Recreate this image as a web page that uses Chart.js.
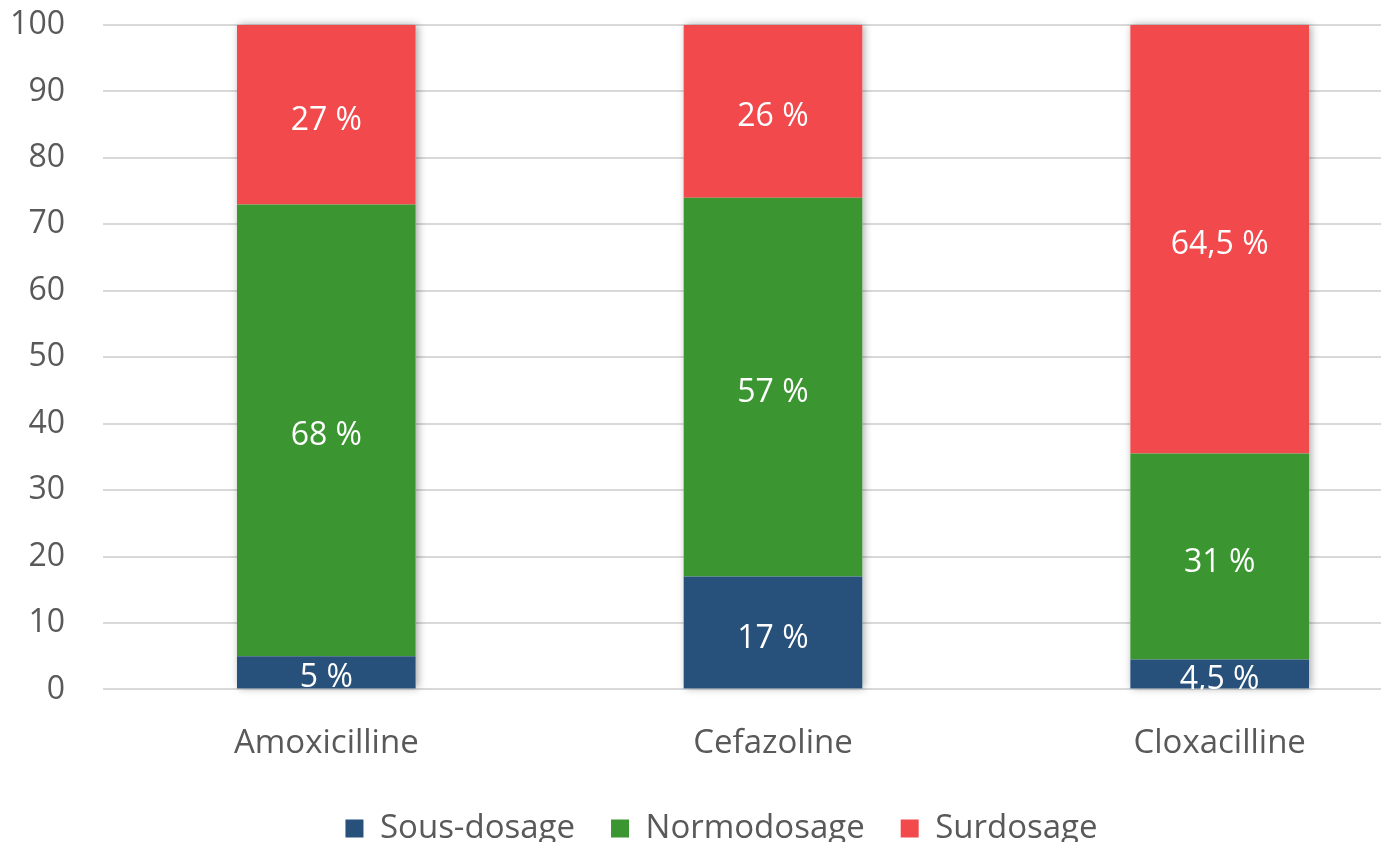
<!DOCTYPE html>
<html>
<head>
<meta charset="utf-8">
<script src="https://cdn.jsdelivr.net/npm/chart.js@4"></script>
<style>
  html, body { margin: 0; padding: 0; background: #fff; overflow: hidden; }
  #wrap { position: absolute; left: 0; top: 0; width: 1480px; height: 842px; }
</style>
</head>
<body>
<div id="wrap"><canvas id="dosageChart" width="1480" height="842"></canvas></div>
<script>
// antibiotics and dosage shares (%)
const antibiotics = ["Amoxicilline", "Cefazoline", "Cloxacilline"];
const sousDosage = [5, 17, 4.5];
const normoDosage = [68, 57, 31];
const surDosage = [27, 26, 64.5];
const yTicks = [0, 10, 20, 30, 40, 50, 60, 70, 80, 90, 100];

const textGrey = "#595959";
Chart.defaults.font.family = "'Open Sans', sans-serif";

// soft shadow behind each full stack
const stackShadow = {
  id: "stackShadow",
  beforeDatasetsDraw(chart) {
    const ctx = chart.ctx;
    const bottom = chart.getDatasetMeta(0).data;
    const top = chart.getDatasetMeta(chart.data.datasets.length - 1).data;
    ctx.save();
    ctx.shadowColor = "rgba(0,0,0,0.35)";
    ctx.shadowBlur = 8;
    ctx.shadowOffsetX = 2;
    ctx.fillStyle = "#fff";
    bottom.forEach((bar, i) => {
      const w = bar.width;
      ctx.fillRect(bar.x - w / 2, top[i].y, w, bar.base - top[i].y);
    });
    ctx.restore();
  }
};

// white value labels centred in each segment
const segmentLabels = {
  id: "segmentLabels",
  afterDatasetsDraw(chart) {
    const ctx = chart.ctx;
    const area = chart.chartArea;
    ctx.save();
    ctx.beginPath();
    ctx.rect(area.left, area.top, area.right - area.left, area.bottom - area.top);
    ctx.clip();
    ctx.fillStyle = "#ffffff";
    ctx.font = "32px 'Open Sans', sans-serif";
    ctx.textAlign = "center";
    ctx.textBaseline = "middle";
    chart.data.datasets.forEach((ds, d) => {
      chart.getDatasetMeta(d).data.forEach((bar, i) => {
        const label = String(ds.data[i]).replace(".", ",") + " %";
        ctx.fillText(label, bar.x, (bar.y + bar.base) / 2 + 6);
      });
    });
    ctx.restore();
  }
};

new Chart(document.getElementById("dosageChart"), {
  type: "bar",
  data: {
    labels: antibiotics,
    datasets: [
      { label: "Sous-dosage", data: sousDosage, backgroundColor: "#27507a" },
      { label: "Normodosage", data: normoDosage, backgroundColor: "#3b9631" },
      { label: "Surdosage", data: surDosage, backgroundColor: "#f2494c" }
    ]
  },
  options: {
    responsive: false,
    animation: false,
    layout: { padding: { top: 25, right: 37, bottom: -13, left: 0 } },
    datasets: { bar: { categoryPercentage: 1, barPercentage: 0.4 } },
    scales: {
      x: {
        stacked: true,
        grid: { display: false },
        border: { display: false },
        afterFit(scale) { scale.height -= 13; },
        ticks: { color: textGrey, font: { size: 33 }, padding: 26 }
      },
      y: {
        stacked: true,
        min: 0,
        max: 100,
        afterBuildTicks(scale) {
          scale.ticks = yTicks.map(v => ({ value: v }));
        },
        afterFit(scale) {
          scale.width = 103;
          scale.paddingTop = 0;
          scale.paddingBottom = 0;
        },
        grid: { color: "#d9d9d9", lineWidth: 2, drawTicks: false },
        border: { display: false },
        ticks: { color: textGrey, font: { size: 32 }, padding: 38 }
      }
    },
    plugins: {
      legend: {
        position: "bottom",
        labels: {
          color: textGrey,
          font: { size: 33 },
          boxWidth: 18,
          boxHeight: 18,
          padding: 36
        }
      },
      tooltip: { enabled: false }
    }
  },
  plugins: [stackShadow, segmentLabels]
});
</script>
</body>
</html>
